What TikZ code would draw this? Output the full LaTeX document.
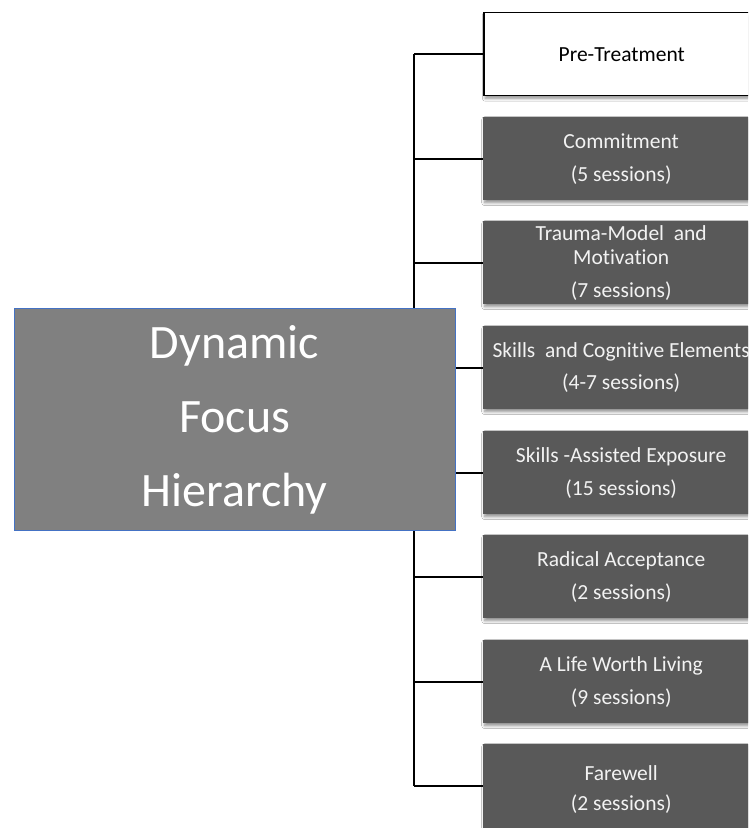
\documentclass[tikz,border=0pt]{standalone}
\usepackage{fontspec}
\setmainfont[Ligatures=NoCommon]{Carlito}
\usetikzlibrary{shadows.blur}
\definecolor{boxgray}{HTML}{595959}
\definecolor{mainblue}{HTML}{4472C4}
\definecolor{maingray}{HTML}{808080}
\definecolor{boxtext}{HTML}{F2F2F2}
\begin{document}
\begin{tikzpicture}[x=1pt,y=1pt,
  stage/.style={anchor=north west, minimum width=276pt, minimum height=83pt,
    inner sep=0pt, align=center, fill=boxgray, text=boxtext,
    font=\fontsize{21.5}{24}\selectfont,
    blur shadow={shadow xshift=1.5pt, shadow yshift=-2.5pt, shadow blur radius=3pt, shadow opacity=45}},
  conn/.style={draw=black, line width=2pt},
  mainbox/.style={fill=maingray, draw=mainblue, line width=1pt, text=white,
    minimum width=441pt, minimum height=222pt, inner sep=0pt, align=center,
    font=\fontsize{48}{74}\selectfont}
]
\useasboundingbox (0,0) rectangle (748,828);
\clip (0,0) rectangle (748,828);
\fill[white] (0,0) rectangle (748,828);
\coordinate (tr) at (414,0);
\node[stage, fill=white, draw=black, line width=1.5pt, text=black] (b1) at (483,816) {Pre-Treatment};
\node[stage] (b2) at (483,711) {Commitment\\[9pt](5 sessions)};
\node[stage] (b3) at (483,607) {Trauma-Model\ \ and\\Motivation\\[9pt](7 sessions)};
\node[stage] (b4) at (483,502) {Skills\ \ and Cognitive Elements\\[8pt](4-7 sessions)};
\node[stage] (b5) at (483,397) {Skills -Assisted Exposure\\[9pt](15 sessions)};
\node[stage] (b6) at (483,293) {Radical Acceptance\\[9pt](2 sessions)};
\node[stage] (b7) at (483,188) {A Life Worth Living\\[9pt](9 sessions)};
\node[stage, minimum height=90pt] (b8) at (483,84) {Farewell\\[6pt](2 sessions)};
\coordinate (b8c) at (483,42);
\draw[conn] (b1.west -| tr) -- (tr |- b8c);
\foreach \i in {1,...,7} {
  \draw[conn] (b\i.west -| tr) -- (b\i.west);
}
\draw[conn] (tr |- b8c) -- (b8c);
\node[mainbox] (main) at (234.5,408) {Dynamic\\Focus\\Hierarchy};
\end{tikzpicture}
\end{document}
